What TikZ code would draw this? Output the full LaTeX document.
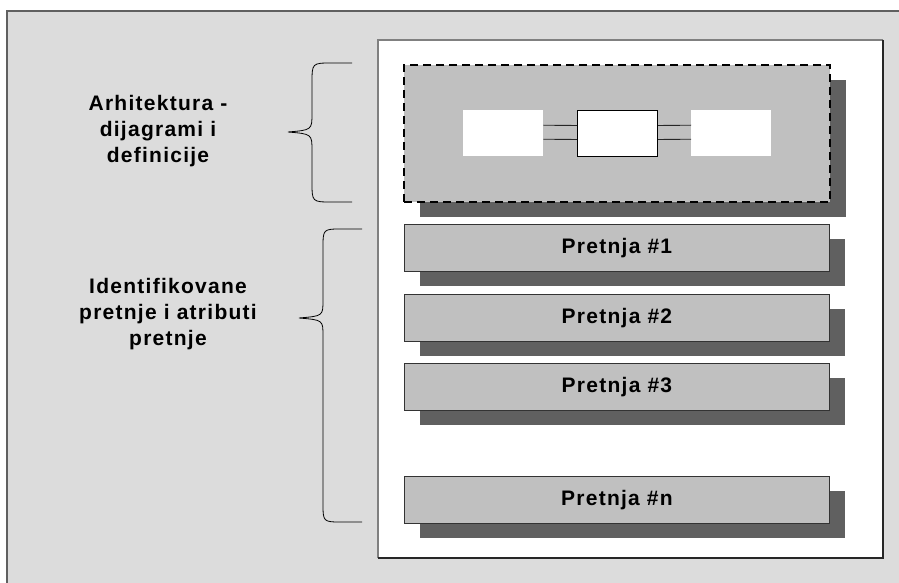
\documentclass[tikz,border=0pt]{standalone}
\usepackage{fontspec}
\setmainfont{Liberation Sans}
\newfontfamily\labelfont[LetterSpace=6]{Liberation Sans}
\usetikzlibrary{shadows}

\definecolor{pagegray}{HTML}{DCDCDC}
\definecolor{boxgray}{HTML}{C0C0C0}
\definecolor{shadegray}{HTML}{606060}
\definecolor{edgegray}{HTML}{808080}

\tikzset{
  boxshadow/.style={drop shadow={shadow xshift=16pt, shadow yshift=-15pt,
      opacity=1, fill=shadegray}},
  threat/.style={rectangle, anchor=north west, fill=boxgray, draw=black!80,
      line width=0.9pt, minimum width=425pt, minimum height=47pt, inner sep=0pt,
      boxshadow, font=\labelfont\bfseries\fontsize{21}{24}\selectfont},
  archframe/.style={rectangle, anchor=north west, fill=boxgray, draw=black,
      line width=2.2pt, dash pattern=on 8pt off 5pt, minimum width=426pt,
      minimum height=137pt, inner sep=0pt, boxshadow},
  component/.style={rectangle, anchor=north west, fill=white, inner sep=0pt,
      minimum width=80pt, minimum height=46pt},
  sidelabel/.style={align=center, font=\labelfont\bfseries\fontsize{21}{26}\selectfont},
  bracepath/.style={draw=black, line width=0.8pt},
  link/.style={draw=black!85, line width=0.9pt},
}

\begin{document}
\begin{tikzpicture}[x=1pt,y=-1pt]
  \useasboundingbox (0,0) rectangle (899,583);

  % page background with its left and top border
  \fill[pagegray] (7,11) rectangle (899,583);
  \draw[shadegray, line width=1.5pt] (7,583) -- (7,11) -- (899,11);

  % white sheet
  \fill[white] (378,40) rectangle (883,558);
  \draw[edgegray, line width=1.2pt] (378,558) -- (378,40) -- (883,40);
  \draw[black!85, line width=1.2pt] (883,40) -- (883,558) -- (378,558);

  % architecture block with three components
  \node[archframe] (arch) at (403,64) {};
  \node[component] (left) at (463,110) {};
  \node[component, draw=black, line width=1pt] (mid) at (577,110) {};
  \node[component] (right) at (691,110) {};
  \draw[link] ([yshift=8pt]left.east) -- ([yshift=8pt]mid.west);
  \draw[link] ([yshift=-6pt]left.east) -- ([yshift=-6pt]mid.west);
  \draw[link] ([yshift=8pt]mid.east) -- ([yshift=8pt]right.west);
  \draw[link] ([yshift=-6pt]mid.east) -- ([yshift=-6pt]right.west);

  % threat rows
  \node[threat] (t1) at (404,224) {Pretnja \#1};
  \node[threat] (t2) at (404,294) {Pretnja \#2};
  \node[threat] (t3) at (404,363) {Pretnja \#3};
  \node[threat] (tn) at (404,476) {Pretnja \#n};

  % side labels
  \node[sidelabel] (archlabel) at (158,131) {Arhitektura -\\dijagrami i\\definicije};
  \node[sidelabel] (threatlabel) at (168,314) {Identifikovane\\pretnje i atributi\\pretnje};

  % braces
  \coordinate (b1top) at (352,63);
  \coordinate (b1tip) at (288,132);
  \coordinate (b1bot) at (352,202);
  \draw[bracepath] (b1top) -- (332,63) .. controls (312,63) .. (312,83)
    -- (312,113) .. controls (312,130) .. (b1tip)
    .. controls (312,134) .. (312,151) -- (312,182)
    .. controls (312,202) .. (332,202) -- (b1bot);

  \coordinate (b2top) at (362,229);
  \coordinate (b2tip) at (299,318);
  \coordinate (b2bot) at (362,522);
  \draw[bracepath] (b2top) -- (342,229) .. controls (323,229) .. (323,248)
    -- (323,300) .. controls (323,316) .. (b2tip)
    .. controls (323,320) .. (323,336) -- (323,503)
    .. controls (323,522) .. (342,522) -- (b2bot);
\end{tikzpicture}
\end{document}
